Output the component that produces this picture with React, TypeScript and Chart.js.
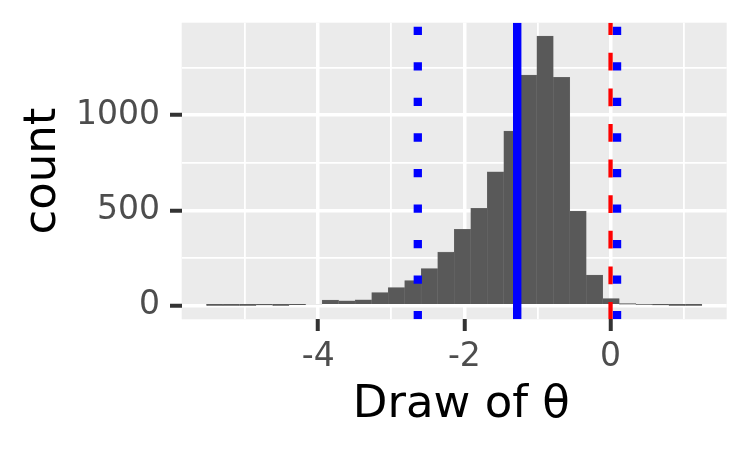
import React, { useEffect, useRef } from "react";
import { Chart, registerables } from "chart.js";

Chart.register(...registerables);

// Histogram bins (centres on the θ axis) and their counts
const binCenters = [
  -5.415, -5.189, -4.963, -4.737, -4.511, -4.285, -4.059, -3.833, -3.607, -3.381,
  -3.155, -2.929, -2.704, -2.478, -2.252, -2.026, -1.8, -1.574, -1.348, -1.122,
  -0.896, -0.67, -0.445, -0.219, 0.007, 0.233, 0.459, 0.685, 0.911, 1.137,
];
const binCounts = [
  1, 1, 1, 3, 1, 4, 8, 30, 26, 32,
  69, 95, 132, 195, 282, 401, 511, 703, 916, 1210,
  1414, 1198, 497, 161, 38, 12, 6, 3, 1, 1,
];

// Reference lines
const thetaMean = -1.277;
const thetaLower = -2.637;
const thetaUpper = 0.089;
const referenceValue = 0;

// Axes
const xTickValues = [-5, -4, -3, -2, -1, 0, 1];
const xMajorTicks = [-4, -2, 0];
const yTickValues = [0, 250, 500, 750, 1000, 1250];
const yMajorTicks = [0, 500, 1000];
const X_MIN = -5.867;
const X_MAX = 1.589;
const Y_MIN = -70.7;
const Y_MAX = 1484.7;

const FONT = "'DejaVu Sans', 'Noto Sans', sans-serif";

const panelBackground = {
  id: "panelBackground",
  beforeDraw(chart: any) {
    const { ctx, chartArea } = chart;
    ctx.save();
    ctx.fillStyle = "#EBEBEB";
    ctx.fillRect(chartArea.left, chartArea.top, chartArea.right - chartArea.left, chartArea.bottom - chartArea.top);
    ctx.restore();
  },
};

function vline(x: number) {
  return [
    { x, y: Y_MAX },
    { x, y: Y_MIN },
  ];
}

export default function App() {
  const canvasRef = useRef<HTMLCanvasElement | null>(null);

  useEffect(() => {
    if (!canvasRef.current) return;
    const isMajor = (majors: number[]) => (c: any) => c.tick && majors.includes(c.tick.value);
    const xMaj = isMajor(xMajorTicks);
    const yMaj = isMajor(yMajorTicks);

    const chart = new Chart(canvasRef.current, {
      type: "bar",
      data: {
        datasets: [
          {
            type: "line",
            data: vline(thetaLower),
            borderColor: "#0000FF",
            borderWidth: 8.3,
            borderDash: [8.3, 27.25],
            borderDashOffset: 31.55,
            borderCapStyle: "butt",
            pointRadius: 0,
            order: 1,
          } as any,
          {
            type: "line",
            data: vline(thetaUpper),
            borderColor: "#0000FF",
            borderWidth: 8.3,
            borderDash: [8.3, 27.25],
            borderDashOffset: 31.55,
            borderCapStyle: "butt",
            pointRadius: 0,
            order: 1,
          } as any,
          {
            type: "line",
            data: vline(thetaMean),
            borderColor: "#0000FF",
            borderWidth: 8.4,
            borderCapStyle: "butt",
            pointRadius: 0,
            order: 2,
          } as any,
          {
            type: "line",
            data: vline(referenceValue),
            borderColor: "#FF0000",
            borderWidth: 4.3,
            borderDash: [17.8, 17.8],
            borderDashOffset: 5.5,
            borderCapStyle: "butt",
            pointRadius: 0,
            order: 3,
          } as any,
          {
            type: "bar",
            data: binCenters.map((c, i) => ({ x: c, y: binCounts[i] })),
            backgroundColor: "#595959",
            borderColor: "#6E6E6E",
            borderWidth: { left: 0.5, right: 0.5, top: 0.5, bottom: 0 },
            barPercentage: 1,
            categoryPercentage: 1,
            grouped: false,
            order: 10,
          } as any,
        ],
      },
      options: {
        animation: false,
        responsive: false,
        devicePixelRatio: 1,
        layout: { padding: { top: 22.7, right: 23.3, bottom: 0, left: 0 } },
        plugins: { legend: { display: false }, tooltip: { enabled: false } },
        scales: {
          x: {
            type: "linear",
            min: X_MIN,
            max: X_MAX,
            offset: false,
            afterBuildTicks: (s: any) => {
              s.ticks = xTickValues.map((v) => ({ value: v }));
            },
            afterFit: (s: any) => {
              s.height = 130.7;
              s.paddingLeft = 0;
              s.paddingRight = 0;
              s.paddingTop = 0;
              s.paddingBottom = 0;
            },
            grid: {
              offset: false,
              color: "#FFFFFF",
              lineWidth: (c: any) => (xMaj(c) ? 3.5 : 1.8),
              tickColor: (c: any) => (xMaj(c) ? "#333333" : "rgba(0,0,0,0)"),
              tickWidth: (c: any) => (xMaj(c) ? 4 : 0),
              tickLength: 11.7,
              drawTicks: true,
            },
            border: { display: false },
            ticks: {
              autoSkip: false,
              maxRotation: 0,
              padding: 7,
              color: "#4D4D4D",
              font: { family: FONT, size: 33 },
              callback: (v: any) => (xMajorTicks.includes(Number(v)) ? String(v) : ""),
            },
            title: {
              display: true,
              text: " Draw of θ",
              color: "#000000",
              font: { family: FONT, size: 45 },
              padding: { top: 0, bottom: 18 },
            },
          } as any,
          y: {
            type: "linear",
            min: Y_MIN,
            max: Y_MAX,
            afterBuildTicks: (s: any) => {
              s.ticks = yTickValues.map((v) => ({ value: v }));
            },
            afterFit: (s: any) => {
              s.width = 181.7;
              s.paddingLeft = 0;
              s.paddingRight = 0;
              s.paddingTop = 0;
              s.paddingBottom = 0;
            },
            grid: {
              color: "#FFFFFF",
              lineWidth: (c: any) => (yMaj(c) ? 3.5 : 1.8),
              tickColor: (c: any) => (yMaj(c) ? "#333333" : "rgba(0,0,0,0)"),
              tickWidth: (c: any) => (yMaj(c) ? 4 : 0),
              tickLength: 11.7,
              drawTicks: true,
            },
            border: { display: false },
            ticks: {
              autoSkip: false,
              padding: 10,
              color: "#4D4D4D",
              font: { family: FONT, size: 33 },
              callback: (v: any) => (yMajorTicks.includes(Number(v)) ? String(v) : ""),
            },
            title: {
              display: true,
              text: "count",
              color: "#000000",
              font: { family: FONT, size: 45 },
              padding: { top: 16, bottom: 0 },
            },
          } as any,
        },
      },
      plugins: [panelBackground],
    });
    return () => chart.destroy();
  }, []);

  return (
    <div style={{ position: "fixed", left: 0, top: 0, width: 750, height: 450, background: "#FFFFFF" }}>
      <canvas ref={canvasRef} width={750} height={450} style={{ display: "block", width: 750, height: 450 }} />
    </div>
  );
}
